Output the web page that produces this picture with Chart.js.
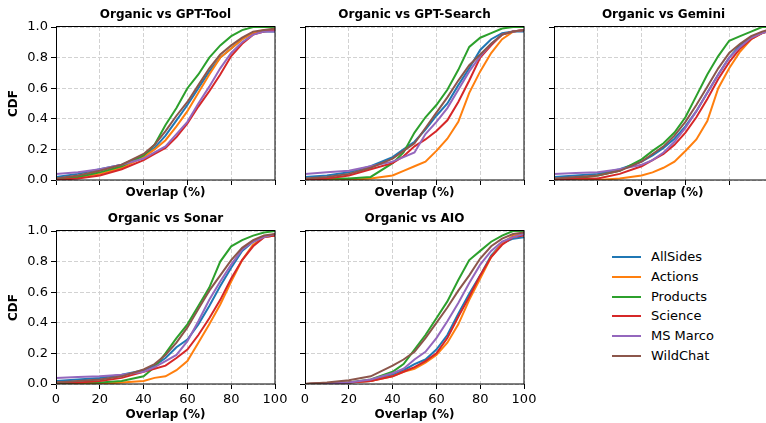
<!DOCTYPE html>
<html>
<head>
<meta charset="utf-8">
<script src="https://cdn.jsdelivr.net/npm/chart.js@4.4.1/dist/chart.umd.min.js"></script>
<style>
html,body{margin:0;padding:0;background:#fff;}
body{width:766px;height:423px;overflow:hidden;position:relative;font-family:'DejaVu Sans',sans-serif;}
canvas{position:absolute;}
.item{position:absolute;left:612px;height:16px;line-height:16px;white-space:nowrap;font-size:13px;color:#000;}
.sw{position:absolute;left:0;top:7px;width:29px;height:2px;}
.lbl{position:absolute;left:39px;top:0;}
</style>
</head>
<body>
<div id="legend"></div>
<script>
// ---- data ----
const X_OVERLAP = [0,10,20,30,40,45,50,55,60,65,70,75,80,85,90,95,100];
const X_TICKS = [0,20,40,60,80,100];
const Y_TICKS = [0,0.2,0.4,0.6,0.8,1.0];
const SERIES = ['AllSides','Actions','Products','Science','MS Marco','WildChat'];
const TITLES = ['Organic vs GPT-Tool','Organic vs GPT-Search','Organic vs Gemini','Organic vs Sonar','Organic vs AIO'];
const X_TITLE = 'Overlap (%)';
const Y_TITLE = 'CDF';

// rows: AllSides, Actions, Products, Science, MS Marco, WildChat
const GPT_TOOL = [
  [0.02,0.04,0.07,0.10,0.16,0.21,0.29,0.39,0.49,0.60,0.71,0.80,0.86,0.92,0.96,0.97,0.97],
  [0.00,0.02,0.04,0.08,0.15,0.20,0.26,0.35,0.45,0.57,0.69,0.80,0.86,0.92,0.96,0.98,0.98],
  [0.01,0.02,0.05,0.09,0.16,0.23,0.36,0.47,0.60,0.69,0.80,0.88,0.94,0.98,1.00,1.00,1.00],
  [0.00,0.01,0.03,0.07,0.13,0.17,0.21,0.28,0.37,0.48,0.58,0.69,0.81,0.89,0.95,0.97,0.98],
  [0.04,0.05,0.07,0.10,0.14,0.18,0.22,0.30,0.38,0.50,0.61,0.73,0.83,0.90,0.95,0.97,0.97],
  [0.01,0.03,0.06,0.10,0.17,0.23,0.32,0.42,0.51,0.62,0.73,0.82,0.88,0.93,0.97,0.98,0.99]
];
const GPT_SEARCH = [
  [0.02,0.03,0.05,0.09,0.15,0.20,0.25,0.33,0.42,0.50,0.62,0.73,0.85,0.92,0.96,0.97,0.97],
  [0.00,0.00,0.00,0.01,0.03,0.06,0.09,0.12,0.19,0.27,0.38,0.57,0.71,0.83,0.92,0.97,0.98],
  [0.00,0.01,0.01,0.02,0.11,0.18,0.31,0.41,0.49,0.59,0.72,0.87,0.93,0.96,0.99,1.00,1.00],
  [0.00,0.01,0.03,0.07,0.11,0.155,0.22,0.265,0.32,0.39,0.51,0.65,0.80,0.88,0.95,0.97,0.98],
  [0.04,0.05,0.06,0.09,0.12,0.15,0.18,0.30,0.38,0.47,0.59,0.71,0.81,0.89,0.95,0.97,0.98],
  [0.01,0.02,0.04,0.08,0.14,0.19,0.24,0.34,0.44,0.54,0.65,0.75,0.82,0.89,0.95,0.97,0.98]
];
const GEMINI = [
  [0.02,0.03,0.04,0.07,0.12,0.16,0.21,0.27,0.35,0.45,0.57,0.69,0.80,0.88,0.93,0.96,0.98],
  [0.00,0.00,0.00,0.01,0.03,0.05,0.08,0.12,0.19,0.265,0.385,0.60,0.73,0.84,0.92,0.96,0.98],
  [0.00,0.01,0.03,0.06,0.135,0.19,0.24,0.31,0.41,0.55,0.69,0.81,0.91,0.94,0.97,1.00,1.00],
  [0.00,0.01,0.01,0.04,0.09,0.13,0.17,0.23,0.31,0.41,0.53,0.66,0.77,0.86,0.92,0.96,0.98],
  [0.04,0.045,0.05,0.07,0.10,0.13,0.18,0.25,0.34,0.45,0.57,0.69,0.80,0.87,0.93,0.96,0.98],
  [0.01,0.02,0.03,0.06,0.12,0.17,0.22,0.29,0.38,0.49,0.61,0.73,0.83,0.89,0.94,0.97,0.99]
];
const SONAR = [
  [0.02,0.03,0.04,0.06,0.09,0.12,0.17,0.24,0.29,0.39,0.51,0.64,0.76,0.87,0.93,0.96,0.97],
  [0.00,0.00,0.00,0.01,0.02,0.04,0.05,0.09,0.15,0.27,0.39,0.52,0.67,0.81,0.91,0.96,0.97],
  [0.00,0.01,0.01,0.02,0.05,0.11,0.20,0.30,0.39,0.51,0.63,0.80,0.90,0.94,0.97,0.99,1.00],
  [0.01,0.01,0.02,0.04,0.08,0.10,0.12,0.17,0.225,0.32,0.43,0.55,0.69,0.81,0.90,0.96,0.97],
  [0.04,0.045,0.05,0.06,0.08,0.11,0.15,0.19,0.28,0.41,0.55,0.67,0.78,0.88,0.93,0.96,0.98],
  [0.01,0.02,0.03,0.05,0.095,0.13,0.19,0.27,0.37,0.49,0.61,0.71,0.81,0.89,0.94,0.97,0.98]
];
const AIO = [
  [0.00,0.005,0.01,0.02,0.06,0.09,0.13,0.16,0.225,0.32,0.46,0.59,0.71,0.84,0.92,0.95,0.96],
  [0.00,0.005,0.01,0.02,0.05,0.08,0.10,0.14,0.19,0.27,0.39,0.55,0.69,0.83,0.92,0.97,0.98],
  [0.00,0.005,0.01,0.03,0.08,0.13,0.225,0.32,0.43,0.54,0.68,0.81,0.87,0.93,0.97,1.00,1.00],
  [0.00,0.005,0.01,0.02,0.05,0.08,0.11,0.15,0.20,0.30,0.44,0.57,0.71,0.83,0.91,0.96,0.97],
  [0.00,0.005,0.01,0.03,0.07,0.10,0.16,0.21,0.30,0.41,0.53,0.66,0.78,0.87,0.93,0.96,0.98],
  [0.00,0.01,0.024,0.05,0.12,0.16,0.21,0.30,0.40,0.50,0.61,0.71,0.82,0.90,0.95,0.98,0.99]
];

// ---- styling ----
const COLORS = ['#1f77b4','#ff7f0e','#2ca02c','#d62728','#9467bd','#8c564b'];
const GRID = '#d2d2d2';
const PW = 219, PH = 153, TOP_SPACE = 27, BOTTOM_SPACE = 43, RIGHT_SPACE = 16;

Chart.defaults.font.family = "'DejaVu Sans', sans-serif";
Chart.defaults.color = '#000';

const PANELS = [
  {title:TITLES[0], data:GPT_TOOL,   left:56,  top:27,  yLab:true,  xLab:false},
  {title:TITLES[1], data:GPT_SEARCH, left:305, top:27,  yLab:false, xLab:false},
  {title:TITLES[2], data:GEMINI,     left:554, top:27,  yLab:false, xLab:false},
  {title:TITLES[3], data:SONAR,      left:56,  top:231, yLab:true,  xLab:true},
  {title:TITLES[4], data:AIO,        left:305, top:231, yLab:false, xLab:true}
];

const framePlugin = {
  id:'frame',
  afterDraw(chart, args, opts){
    const a = chart.chartArea, ctx = chart.ctx;
    ctx.save();
    ctx.strokeStyle = '#000';
    ctx.lineWidth = 1;
    ctx.strokeRect(Math.round(a.left) + 0.5, Math.round(a.top) - 0.5, Math.round(a.right - a.left) - 0.5, Math.round(a.bottom - a.top) + 0.5);
    ctx.fillStyle = '#000';
    ctx.font = "bold 12px 'DejaVu Sans', sans-serif";
    ctx.textAlign = 'center';
    ctx.textBaseline = 'middle';
    ctx.fillText(opts.text, (a.left + a.right) / 2, a.top - 12);
    ctx.restore();
  }
};

PANELS.forEach(p => {
  const L = p.yLab ? p.left : 20;
  const cv = document.createElement('canvas');
  const w = L + PW + RIGHT_SPACE, h = TOP_SPACE + PH + BOTTOM_SPACE;
  cv.width = w; cv.height = h;
  cv.style.left = (p.left - L) + 'px';
  cv.style.top = (p.top - TOP_SPACE) + 'px';
  cv.style.width = w + 'px'; cv.style.height = h + 'px';
  document.body.appendChild(cv);

  new Chart(cv, {
    type:'line',
    data:{
      datasets: SERIES.map((name, i) => ({
        label:name,
        data: X_OVERLAP.map((x, j) => ({x:x, y:p.data[i][j]})),
        borderColor:COLORS[i],
        backgroundColor:COLORS[i],
        borderWidth:2,
        pointRadius:0,
        tension:0,
        fill:false,
        order:SERIES.length - i
      }))
    },
    options:{
      responsive:false,
      animation:false,
      devicePixelRatio:1,
      events:[],
      layout:{padding:{left:0, right:RIGHT_SPACE, top:TOP_SPACE, bottom:0}},
      plugins:{
        legend:{display:false},
        tooltip:{enabled:false},
        title:{display:false},
        frame:{text:p.title}
      },
      scales:{
        x:{
          type:'linear', min:0, max:100,
          afterBuildTicks: s => { s.ticks = X_TICKS.map(v => ({value:v})); },
          ticks:{display:p.xLab, font:{size:13}, color:'#000', padding:3, maxRotation:0, autoSkip:false},
          grid:{color:GRID, lineWidth:1, drawTicks:true, tickLength:5, tickColor:'#000', tickWidth:1, tickBorderDash:[]},
          border:{display:false, dash:[4,2]},
          title:{display:true, text:X_TITLE, font:{size:12, weight:'bold'}, color:'#000', padding:{top:0, bottom:p.xLab ? 5 : 23}},
          afterFit: s => { s.height = BOTTOM_SPACE; }
        },
        y:{
          type:'linear', min:0, max:1,
          afterBuildTicks: s => { s.ticks = Y_TICKS.map(v => ({value:v})); },
          ticks:{display:p.yLab, font:{size:13}, color:'#000', padding:3, callback: v => Number(v).toFixed(1)},
          grid:{color:GRID, lineWidth:1, drawTicks:true, tickLength:5, tickColor:'#000', tickWidth:1, tickBorderDash:[]},
          border:{display:false, dash:[4,2]},
          title:{display:p.yLab, text:Y_TITLE, font:{size:12, weight:'bold'}, color:'#000', padding:{top:7, bottom:0}},
          afterFit: s => { s.width = L; }
        }
      }
    },
    plugins:[framePlugin]
  });
});

// legend in the empty sixth cell
const legend = document.getElementById('legend');
SERIES.forEach((name, i) => {
  const it = document.createElement('div');
  it.className = 'item';
  it.style.top = (257.3 + 19.7 * i - 8) + 'px';
  const sw = document.createElement('div');
  sw.className = 'sw';
  sw.style.background = COLORS[i];
  const lb = document.createElement('span');
  lb.className = 'lbl';
  lb.textContent = name;
  it.appendChild(sw); it.appendChild(lb);
  legend.appendChild(it);
});
</script>
</body>
</html>
